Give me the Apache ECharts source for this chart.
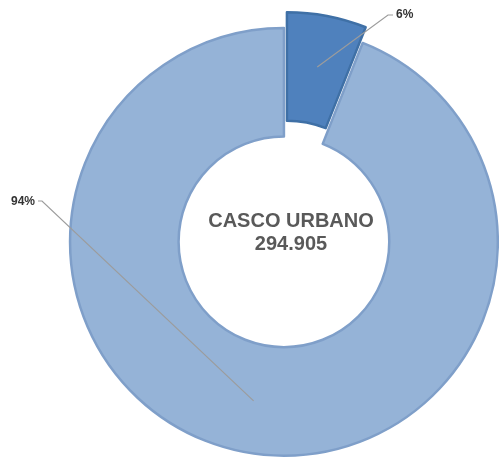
<!DOCTYPE html>
<html>
<head>
<meta charset="utf-8">
<script src="https://cdn.jsdelivr.net/npm/echarts@6/dist/echarts.min.js"></script>
<style>html,body{margin:0;padding:0;background:#fff}#c{width:499px;height:458px}</style>
</head>
<body>
<div id="c"></div>
<script>
// ---- data ----
const categories = ['Segmento A', 'Segmento B'];
const percentValues = [6, 94];
const explodedIndex = 0;
const centerTitle = 'CASCO URBANO';
const centerValue = '294.905';

// ---- styles ----
const fills = ['#4f81bd', '#95b3d7'];
const borders = ['#3f70a6', '#7f9fc9'];
const explodeOffset = 16;
const labelSpots = [
  { x: 396, y: 15, bend: [388, 15], end: [393, 15], align: 'left' },
  { x: 35, y: 202, bend: [42, 201], end: [38, 201], align: 'right' }
];

const chart = echarts.init(document.getElementById('c'), null, { renderer: 'canvas' });
const center = ['56.9%', '52.8%'];

chart.setOption({
  animation: false,
  backgroundColor: '#ffffff',
  series: [
    {
      type: 'pie',
      z: 2,
      center: center,
      radius: ['46%', '93.4%'],
      startAngle: 90,
      clockwise: true,
      selectedMode: 'single',
      selectedOffset: explodeOffset,
      avoidLabelOverlap: false,
      label: { show: false },
      labelLine: { show: false },
      emphasis: { disabled: true },
      data: percentValues.map((v, i) => {
        const st = { color: fills[i], borderColor: borders[i], borderWidth: 2.5 };
        return {
          name: categories[i],
          value: v,
          selected: i === explodedIndex,
          itemStyle: st,
          select: { itemStyle: st }
        };
      })
    },
    {
      type: 'pie',
      z: 5,
      center: center,
      radius: [0, '70.7%'],
      startAngle: 90,
      clockwise: true,
      silent: true,
      avoidLabelOverlap: false,
      emphasis: { disabled: true },
      itemStyle: { color: 'rgba(0,0,0,0)', borderWidth: 0 },
      label: {
        show: true,
        position: 'outside',
        formatter: '{c}%',
        color: '#333333',
        fontFamily: '"Liberation Sans", Arial, sans-serif',
        fontWeight: 'bold',
        fontSize: 12
      },
      labelLine: {
        show: true,
        length: 10,
        length2: 5,
        lineStyle: { color: '#9c9c9c', width: 1.2 }
      },
      labelLayout: function (p) {
        const s = labelSpots[p.dataIndex];
        const res = { x: s.x, y: s.y, align: s.align, verticalAlign: 'middle' };
        const pts = p.labelLinePoints;
        if (pts && pts.length >= 2) {
          let a = [pts[0][0], pts[0][1]];
          if (p.dataIndex === explodedIndex) {
            const dx = pts[1][0] - pts[0][0], dy = pts[1][1] - pts[0][1];
            const len = Math.sqrt(dx * dx + dy * dy) || 1;
            a = [a[0] + dx / len * explodeOffset, a[1] + dy / len * explodeOffset];
          }
          res.labelLinePoints = [a, s.bend, s.end];
        }
        return res;
      },
      data: percentValues.map((v, i) => ({ name: categories[i], value: v }))
    }
  ],
  graphic: [
    {
      type: 'text',
      x: 291,
      y: 233,
      z: 10,
      silent: true,
      style: {
        text: centerTitle + '\n' + centerValue,
        fill: '#595959',
        fontFamily: '"Liberation Sans", Arial, sans-serif',
        fontWeight: 'bold',
        fontSize: 20,
        lineHeight: 23,
        align: 'center',
        verticalAlign: 'middle'
      }
    }
  ]
});
</script>
</body>
</html>
